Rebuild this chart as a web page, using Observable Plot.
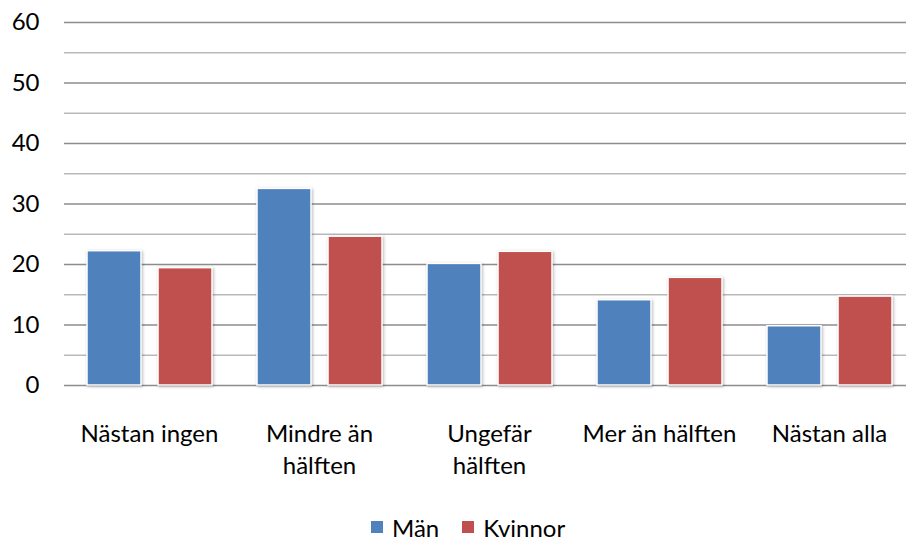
<!DOCTYPE html>
<html><head><meta charset="utf-8">
<script src="https://cdn.jsdelivr.net/npm/d3@7"></script>
<script src="https://cdn.jsdelivr.net/npm/@observablehq/plot@0.6"></script>
<style>
body{margin:0;background:#fff;font-family:Lato,sans-serif;}
#chart svg{display:block;}
g[aria-label="bar"] rect{filter:drop-shadow(1px 1px 1.5px rgba(0,0,0,0.28));}
.legend{display:flex;align-items:center;height:38px;padding-left:371px;font-size:24px;color:#000;font-family:Lato,sans-serif;}
.legend .sw{width:12px;height:12px;display:inline-block;margin-right:9px;}
.legend .item{display:flex;align-items:center;margin-right:23px;}
</style>
</head><body>
<div id="chart"></div>
<script>
const categories = ["Nästan ingen","Mindre än hälften","Ungefär hälften","Mer än hälften","Nästan alla"];
const tickLabels = ["Nästan ingen","Mindre än\nhälften","Ungefär\nhälften","Mer än hälften","Nästan alla"];
const series = ["Män","Kvinnor"];
const colors = ["#4F81BD","#C0504D"];
const manValues = [22.2, 32.5, 20.1, 14.1, 9.8];
const kvinnorValues = [19.4, 24.6, 22.1, 17.8, 14.7];
const yTicks = [0,10,20,30,40,50,60];
const minorTicks = [5,15,25,35,45,55];

const data = categories.flatMap((c,i)=>[
  {cat:c, series:series[0], value:manValues[i]},
  {cat:c, series:series[1], value:kvinnorValues[i]}
]);

const chart = Plot.plot({
  width:906, height:508,
  marginLeft:64, marginRight:-8, marginTop:22, marginBottom:123,
  style:{fontFamily:"Lato, sans-serif", fontSize:"24px", color:"#000", background:"white"},
  fx:{domain:categories, padding:0},
  x:{domain:series, paddingInner:0.24, paddingOuter:0.317, axis:null},
  y:{domain:[0,60]},
  color:{domain:series, range:colors},
  marks:[
    Plot.ruleY(minorTicks, {stroke:"#b9b9b9", strokeWidth:1.5}),
    Plot.ruleY(yTicks, {stroke:"#8c8c8c", strokeWidth:1.5}),
    Plot.barY(data, {fx:"cat", x:"series", y:"value", fill:"series", stroke:"white", strokeWidth:1.5}),
    Plot.axisY({ticks:yTicks, tickSize:0, tickPadding:25, label:null, fontSize:24}),
    Plot.axisFx({anchor:"bottom", tickSize:0, tickPadding:34, label:null, fontSize:24, lineHeight:1.32,
      tickFormat: d => tickLabels[categories.indexOf(d)]})
  ]
});
document.getElementById("chart").appendChild(chart);

const legend = document.createElement("div");
legend.className = "legend";
series.forEach((s,i)=>{
  const item = document.createElement("span");
  item.className = "item";
  const sw = document.createElement("span");
  sw.className = "sw";
  sw.style.background = colors[i];
  item.appendChild(sw);
  item.appendChild(document.createTextNode(s));
  legend.appendChild(item);
});
document.body.appendChild(legend);
</script>
</body></html>
